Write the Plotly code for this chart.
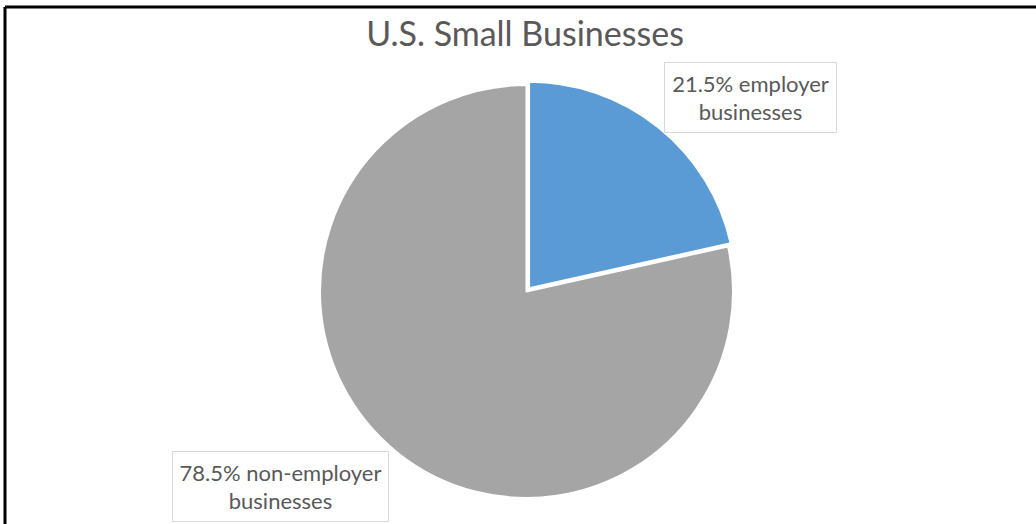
import plotly.graph_objects as go

# Share of U.S. small businesses by type
categories = ["employer businesses", "non-employer businesses"]
shares = [21.5, 78.5]
colors = ["#5B9BD5", "#A5A5A5"]
title_text = "U.S. Small Businesses"

W, H = 1036, 524
FONT = "Lato, Carlito, 'Open Sans', sans-serif"
TEXT_GRAY = "#595959"


def px_x(x):
    return x / W


def px_y(y):
    return 1 - y / H


fig = go.Figure()

# Pie geometry in pixels (centre and radius), pull widens the domain
cx, cy, r = 526.5, 291.5, 206.5
pull = 0.02
half = r * (1 + pull)

fig.add_trace(go.Pie(
    labels=categories,
    values=shares,
    marker=dict(colors=colors, line=dict(color="white", width=2)),
    sort=False,
    direction="clockwise",
    rotation=0,
    pull=[pull, 0],
    textinfo="none",
    hoverinfo="label+percent",
    showlegend=False,
    domain=dict(x=[px_x(cx - half), px_x(cx + half)],
                y=[px_y(cy + half), px_y(cy - half)]),
))

# Boxed data labels
label_boxes = [
    dict(x=750.5, y=97.5, w=173, h=71),
    dict(x=280.5, y=486, w=217, h=71),
]
for cat, val, box in zip(categories, shares, label_boxes):
    first, _, rest = cat.partition(" ")
    txt = f"{val:.1f}% {first}<br>{rest}"
    fig.add_annotation(
        x=px_x(box["x"]), y=px_y(box["y"]), xref="paper", yref="paper",
        xanchor="center", yanchor="middle",
        text=txt, showarrow=False, align="center",
        font=dict(family=FONT, size=22, color=TEXT_GRAY),
        bgcolor="white", bordercolor="#D9D9D9", borderwidth=1,
        borderpad=4, width=box["w"] - 10, height=box["h"] - 10,
    )

# Frame lines (top and left edges)
fig.add_shape(type="line", xref="paper", yref="paper",
              x0=px_x(5), x1=1.02, y0=px_y(7), y1=px_y(7),
              line=dict(color="black", width=3))
fig.add_shape(type="line", xref="paper", yref="paper",
              x0=px_x(5), x1=px_x(5), y0=px_y(7), y1=-0.02,
              line=dict(color="black", width=3))

fig.update_layout(
    width=W, height=H,
    margin=dict(l=0, r=0, t=0, b=0),
    paper_bgcolor="white", plot_bgcolor="white",
    title=dict(text=title_text, x=px_x(525), y=px_y(34),
               xanchor="center", yanchor="middle",
               font=dict(family=FONT, size=34, color=TEXT_GRAY)),
)

fig.write_html("out.html")
